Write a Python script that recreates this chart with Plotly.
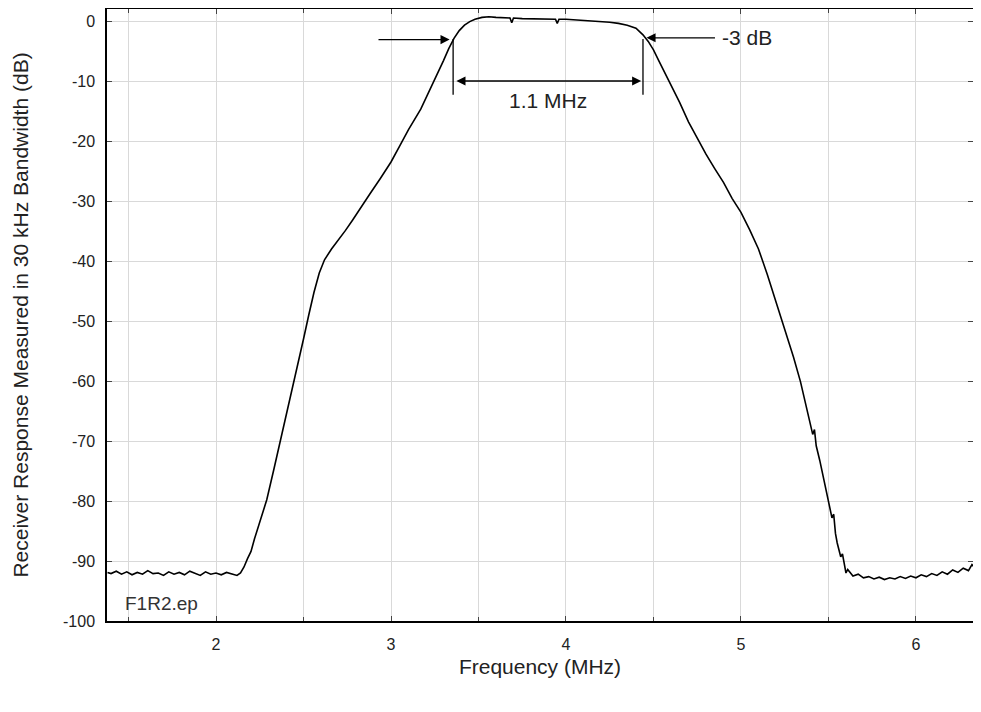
import plotly.graph_objects as go

# Receiver response (frequency in MHz, response in dB)
freq_mhz = [
    1.38, 1.40, 1.43, 1.46, 1.49, 1.52, 1.55, 1.58, 1.61, 1.64, 1.67, 1.70, 1.73, 1.76,
    1.79, 1.82, 1.85, 1.88, 1.91, 1.94, 1.97, 2.00, 2.03, 2.06, 2.09, 2.12, 2.14,
    2.16, 2.18, 2.20, 2.22, 2.25, 2.29, 2.33, 2.37, 2.41, 2.46, 2.50, 2.53, 2.56, 2.59,
    2.62, 2.66, 2.70, 2.74, 2.78, 2.83, 2.88, 2.94, 3.00, 3.05, 3.10, 3.17, 3.22, 3.26,
    3.30, 3.33, 3.36, 3.39, 3.42, 3.45, 3.48, 3.52, 3.56, 3.60, 3.64, 3.68, 3.69, 3.70,
    3.75, 3.80, 3.85, 3.90, 3.94, 3.95, 3.96, 4.00, 4.05, 4.10, 4.15, 4.20, 4.25, 4.30,
    4.35, 4.40, 4.44, 4.47, 4.50, 4.53, 4.56, 4.60, 4.65, 4.70, 4.75, 4.80, 4.85, 4.90,
    4.95, 5.00, 5.05, 5.10, 5.15, 5.20, 5.25, 5.30, 5.34, 5.37, 5.40, 5.41, 5.42, 5.43,
    5.45, 5.47, 5.50, 5.52, 5.53, 5.54, 5.55, 5.57, 5.58, 5.60, 5.61,
    5.64, 5.67, 5.70, 5.73, 5.76, 5.79, 5.82, 5.85, 5.88, 5.91, 5.94, 5.97, 6.00, 6.03,
    6.06, 6.09, 6.12, 6.15, 6.18, 6.21, 6.24, 6.27, 6.30, 6.32, 6.34, 6.36, 6.37,
]
response_db = [
    -91.9, -92.1, -91.7, -92.2, -91.8, -92.3, -91.9, -92.2, -91.6, -92.1, -92.0, -92.4, -91.8, -92.2,
    -91.9, -92.3, -91.7, -92.1, -92.4, -91.8, -92.2, -92.0, -92.3, -91.9, -92.2, -92.4, -92.0,
    -91.0, -89.6, -88.4, -86.3, -83.5, -79.8, -74.8, -69.8, -64.4, -58.4, -53.0, -49.0, -45.2, -42.0,
    -39.8, -38.0, -36.5, -34.9, -33.2, -30.9, -28.8, -26.2, -23.5, -20.8, -18.1, -14.7, -11.6, -9.3,
    -6.6, -4.6, -2.9, -1.6, -0.7, -0.1, 0.3, 0.6, 0.7, 0.6, 0.5, 0.5, -0.3, 0.5,
    0.4, 0.4, 0.3, 0.4, 0.3, -0.4, 0.3, 0.3, 0.2, 0.2, 0.1, 0.0, -0.2, -0.4,
    -0.7, -1.2, -2.3, -3.4, -4.8, -6.6, -8.3, -10.6, -13.6, -16.8, -19.6, -22.2, -24.6, -26.9,
    -29.6, -31.9, -34.8, -38.0, -42.2, -46.8, -51.3, -56.0, -60.1, -63.8, -67.3, -68.9, -68.1, -70.8,
    -73.2, -76.0, -80.4, -82.8, -82.2, -85.4, -87.0, -89.3, -88.8, -92.0, -91.4,
    -92.5, -92.2, -92.8, -92.6, -93.0, -92.7, -93.1, -92.8, -93.0, -92.6, -92.9, -92.5, -92.8, -92.3,
    -92.6, -92.1, -92.4, -91.8, -92.2, -91.5, -91.9, -91.2, -91.6, -90.6, -91.3, -90.2, -90.8,
]

x_ticks = [2, 3, 4, 5, 6]
y_ticks = [0, -10, -20, -30, -40, -50, -60, -70, -80, -90, -100]
y_tick_text = [str(v) for v in y_ticks]

# -3 dB points and bandwidth marker
f_low, f_high = 3.355, 4.44
font_name = "Liberation Sans, Arial, sans-serif"

fig = go.Figure()
fig.add_trace(go.Scatter(x=freq_mhz, y=response_db, mode="lines",
                         line=dict(color="black", width=1.6), showlegend=False))

# vertical markers at the -3 dB points
for f in (f_low, f_high):
    fig.add_shape(type="line", x0=f, x1=f, y0=-3, y1=-12.3,
                  line=dict(color="black", width=1.3))

arrow = dict(showarrow=True, arrowhead=2, arrowsize=1.4, arrowwidth=1.3,
             arrowcolor="black", axref="x", ayref="y", text="")
fig.add_annotation(x=f_low - 0.02, y=-3.1, ax=2.92, ay=-3.1, **arrow)
fig.add_annotation(x=f_high + 0.02, y=-2.8, ax=4.86, ay=-2.8, **arrow)
fig.add_annotation(x=f_high - 0.01, y=-10, ax=f_low + 0.01, ay=-10,
                   arrowside="end+start", **arrow)

fig.add_annotation(x=4.88, y=-2.8, text="-3 dB", showarrow=False, xanchor="left",
                   font=dict(size=21, color="#222"))
fig.add_annotation(x=(f_low + f_high) / 2, y=-13.3, text="1.1 MHz", showarrow=False,
                   font=dict(size=21, color="#222"))
fig.add_annotation(x=1.47, y=-97, text="F1R2.ep", showarrow=False, xanchor="left",
                   font=dict(size=19, color="#333"))

# page body has an 8px margin; keep the figure inside the window (no scrollbars)
fig.update_layout(
    width=965, height=696,
    margin=dict(l=99, r=0, t=1, b=83),
    paper_bgcolor="white", plot_bgcolor="white",
    font=dict(family=font_name, size=16, color="#222"),
)
fig.update_xaxes(
    range=[1.377, 6.326], tickvals=x_ticks, ticks="inside", ticklen=5,
    ticklabelstandoff=8, automargin=False,
    showline=True, linecolor="black", linewidth=1.5, mirror="allticks",
    showgrid=True, gridcolor="#d9d9d9", gridwidth=1, zeroline=False,
    minor=dict(dtick=0.5, tick0=0, ticks="inside", ticklen=4, showgrid=True,
               gridcolor="#d9d9d9", gridwidth=1),
    title=dict(text="Frequency (MHz)", font=dict(size=21), standoff=7),
)
fig.update_yaxes(
    range=[-100, 2], tickvals=y_ticks, ticktext=y_tick_text, ticks="inside", ticklen=5,
    ticklabelstandoff=7, automargin=False,
    showline=True, linecolor="black", linewidth=1.5, mirror="allticks",
    showgrid=True, gridcolor="#d9d9d9", gridwidth=1, zeroline=False,
    title=dict(text="Receiver Response Measured in 30 kHz Bandwidth (dB)",
               font=dict(size=21), standoff=29),
)

fig.write_html("out.html")
